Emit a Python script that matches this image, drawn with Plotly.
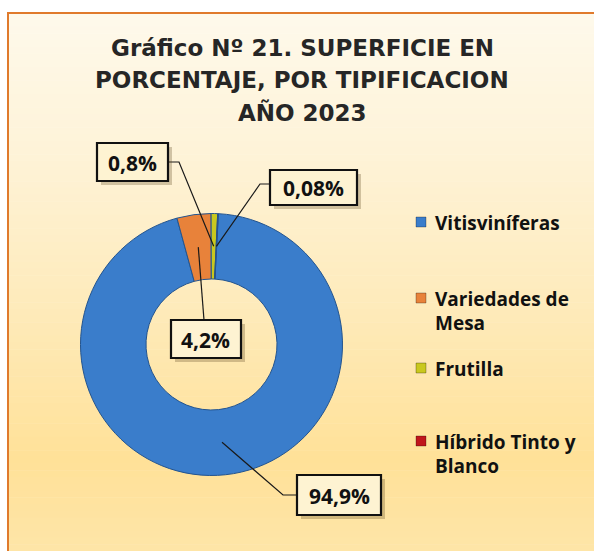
import math
import textwrap
import plotly.graph_objects as go

# ---------------- data ----------------
labels = ["Vitisviníferas", "Variedades de Mesa", "Frutilla", "Híbrido Tinto y Blanco"]
values = [94.9, 4.2, 0.8, 0.08]
value_text = ["94,9%", "4,2%", "0,8%", "0,08%"]
colors = ["#3A7DCB", "#E8823A", "#C9C81E", "#C0161B"]
title_lines = ["Gráfico Nº 21. SUPERFICIE EN", "PORCENTAJE, POR TIPIFICACION", "AÑO 2023"]

# ---------------- layout constants (pixels) ----------------
W, H = 594, 551
CX, CY, R = 211.5, 344.5, 131.0
HOLE = 0.5
ROT = 3.0


def px(x):
    return x / W


def py(y):
    return 1 - y / H


fig = go.Figure()
fig.add_trace(go.Pie(
    labels=labels, values=values, sort=False, direction="clockwise", rotation=ROT,
    hole=HOLE, textinfo="none", showlegend=False,
    marker=dict(colors=colors, line=dict(color="#23548F", width=1.0)),
    domain=dict(x=[px(CX - R), px(CX + R)], y=[py(CY + R), py(CY - R)]),
))

shapes = []
# background gradient inside frame
stops = [(13, (254, 249, 235)), (150, (254, 243, 216)), (300, (254, 235, 188)),
         (460, (255, 225, 152)), (551, (254, 229, 168))]


def col_at(y):
    for (y0, c0), (y1, c1) in zip(stops[:-1], stops[1:]):
        if y0 <= y <= y1:
            t = (y - y0) / (y1 - y0)
            return "rgb(%d,%d,%d)" % tuple(round(a + (b - a) * t) for a, b in zip(c0, c1))
    return "rgb(%d,%d,%d)" % stops[-1][1]


N = 80
y_top, y_bot = 13, 551
for i in range(N):
    ya = y_top + (y_bot - y_top) * i / N
    yb = y_top + (y_bot - y_top) * (i + 1) / N
    shapes.append(dict(type="rect", xref="paper", yref="paper", layer="below",
                       x0=px(8), x1=px(600), y0=py(yb + 0.5), y1=py(ya),
                       fillcolor=col_at((ya + yb) / 2), line=dict(width=0)))
shapes.append(dict(type="rect", xref="paper", yref="paper", layer="below",
                   x0=px(8), x1=px(602), y0=py(560), y1=py(13),
                   fillcolor="rgba(0,0,0,0)", line=dict(color="#E07A2C", width=2)))

# slice anchor points computed from data
total = sum(values)
anchors = []
cum = 0.0
for v in values:
    mid = ROT + (cum + v / 2) / total * 360.0
    cum += v
    a = math.radians(mid)
    rr = R * (1 + HOLE) / 2
    anchors.append((CX + rr * math.sin(a), CY - rr * math.cos(a)))

# label boxes: (x0, y0, x1, y1) in px, and leader elbow
boxes = [(297, 475, 381, 515), (171, 320, 241, 358), (97, 143, 168, 181), (270, 170, 357, 205)]
elbows = [((297, 495), (283, 495)), ((204, 320), None), ((168, 162), (179, 162)), ((270, 184), (260, 184))]

annotations = []
for i, (b, e) in enumerate(zip(boxes, elbows)):
    x0, y0, x1, y1 = b
    start, elbow = e
    ax, ay = anchors[i]
    pts = [start] + ([elbow] if elbow else []) + [(ax, ay)]
    path = "M " + " L ".join("%f,%f" % (px(x), py(y)) for x, y in pts)
    shapes.append(dict(type="path", xref="paper", yref="paper", path=path,
                       line=dict(color="#1a1a1a", width=1.2)))
    # shadow
    shapes.append(dict(type="rect", xref="paper", yref="paper",
                       x0=px(x0 + 4), x1=px(x1 + 4), y0=py(y1 + 4), y1=py(y0 + 4),
                       fillcolor="rgba(90,70,30,0.28)", line=dict(width=0)))
    shapes.append(dict(type="rect", xref="paper", yref="paper",
                       x0=px(x0), x1=px(x1), y0=py(y1), y1=py(y0),
                       fillcolor="#FEF3D2", line=dict(color="#111111", width=2.2)))
    annotations.append(dict(xref="paper", yref="paper", x=px((x0 + x1) / 2), y=py((y0 + y1) / 2 + 1),
                            text="<b>%s</b>" % value_text[i], showarrow=False,
                            xanchor="center", yanchor="middle",
                            font=dict(family="Open Sans", size=21, color="#111111")))

# title
for t, yy in zip(title_lines, [48, 80, 113]):
    annotations.append(dict(xref="paper", yref="paper", x=px(302), y=py(yy), text="<b>%s</b>" % t,
                            showarrow=False, xanchor="center", yanchor="middle",
                            font=dict(family="DejaVu Sans", size=23, color="#262626")))

# legend (manual)
leg_y = [222, 298, 368, 441]
for lab, c, yy in zip(labels, colors, leg_y):
    shapes.append(dict(type="rect", xref="paper", yref="paper",
                       x0=px(416), x1=px(426), y0=py(yy + 5), y1=py(yy - 5),
                       fillcolor=c, line=dict(color="rgba(0,0,0,0.35)", width=0.8)))
    for k, line in enumerate(textwrap.wrap(lab, 15)):
        annotations.append(dict(xref="paper", yref="paper", x=px(433), y=py(yy + 1 + 24 * k),
                                text="<b>%s</b>" % line, showarrow=False,
                                xanchor="left", yanchor="middle",
                                font=dict(family="Open Sans", size=19, color="#111111")))

fig.update_layout(
    width=W, height=H, autosize=False,
    margin=dict(l=0, r=0, t=0, b=0),
    paper_bgcolor="white", plot_bgcolor="white",
    shapes=shapes, annotations=annotations,
)
fig.write_html("out.html", post_script="document.body.style.margin='0px';",
               config={"displayModeBar": False})
